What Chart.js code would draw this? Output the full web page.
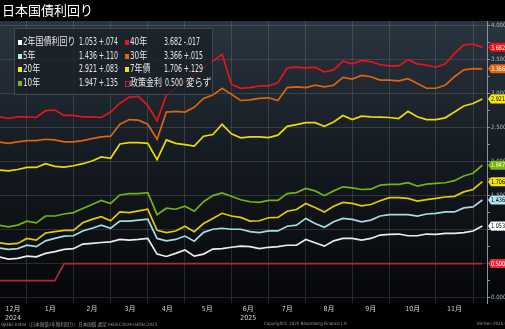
<!DOCTYPE html>
<html>
<head>
<meta charset="utf-8">
<script src="https://cdn.jsdelivr.net/npm/chart.js@4/dist/chart.umd.min.js"></script>
<style>
  html, body { margin: 0; padding: 0; background: #000; width: 505px; height: 329px; overflow: hidden; }
  #wrap { position: relative; width: 505px; height: 329px; }
  #c { position: absolute; left: 0; top: 0; }
  .title { position: absolute; left: 2px; top: 0px; font: 13px "Noto Sans CJK JP", sans-serif; color: #fff; line-height: 20px; }
  .legend { position: absolute; left: 14px; top: 28px; width: 199px; height: 67px; background: rgba(26,31,37,0.78);
            border: 1px solid rgba(95,103,112,0.55); box-sizing: border-box; }
  .item { position: absolute; font: 10px "DejaVu Sans Condensed", "Noto Sans CJK JP", sans-serif;
          color: #e6e6e6; white-space: nowrap; line-height: 12px; transform-origin: 0 50%; }
  .mk { position: absolute; width: 4px; height: 5px; }
  .foot { position: absolute; top: 321px; font: 4.5px "DejaVu Sans Condensed", "Noto Sans CJK JP", sans-serif; color: #9a9a9a; white-space: nowrap; }
</style>
</head>
<body>
<div id="wrap">
  <canvas id="c" width="505" height="329"></canvas>
  <div class="title">日本国債利回り</div>
  <div class="legend" id="legend"></div>
  <div class="foot" style="left:1px">GJGB2 Index（日本国債2年物利回り）日本国債 週足 06DEC2024-04DEC2025</div>
  <div class="foot" style="left:264px">Copyright© 2025 Bloomberg Finance L.P.</div>
  <div class="foot" style="left:477px">04-Dec-2025 06:37:37</div>
</div>
<script>
// Weekly closes, week 0 = early Dec 2024 ... week 52 = early Dec 2025
const jgb2  = [0.60,0.566,0.576,0.61,0.60,0.65,0.675,0.71,0.72,0.787,0.797,0.81,0.82,0.855,0.845,0.855,0.87,
               0.64,0.605,0.65,0.70,0.61,0.64,0.713,0.72,0.74,0.757,0.75,0.72,0.74,0.75,0.77,0.77,0.855,0.806,0.757,
               0.835,0.87,0.87,0.845,0.87,0.92,0.93,0.935,0.91,0.91,0.935,0.93,0.945,0.945,0.955,0.98,1.053];
const jgb5  = [0.73,0.71,0.72,0.77,0.75,0.835,0.87,0.905,0.91,0.98,1.02,1.066,1.02,1.125,1.125,1.14,1.155,
               0.87,0.835,0.855,0.905,0.83,0.96,1.005,1.02,1.005,1.005,0.97,0.955,0.98,0.98,1.05,1.066,1.165,1.09,1.035,
               1.115,1.165,1.15,1.115,1.14,1.20,1.22,1.22,1.22,1.20,1.23,1.24,1.26,1.26,1.32,1.335,1.436];
const jgb7  = [0.806,0.787,0.797,0.87,0.845,0.95,0.97,0.99,0.99,1.10,1.15,1.19,1.13,1.26,1.25,1.275,1.30,
               0.99,0.955,0.98,1.05,0.97,1.09,1.165,1.24,1.20,1.18,1.125,1.13,1.175,1.18,1.27,1.295,1.385,1.325,1.26,
               1.345,1.40,1.385,1.35,1.37,1.425,1.47,1.47,1.46,1.42,1.44,1.46,1.48,1.49,1.555,1.59,1.706];
const jgb10 = [1.066,1.04,1.066,1.125,1.10,1.20,1.20,1.23,1.25,1.31,1.37,1.43,1.385,1.51,1.53,1.53,1.545,
               1.22,1.315,1.30,1.345,1.27,1.41,1.50,1.54,1.49,1.44,1.41,1.40,1.43,1.43,1.53,1.545,1.605,1.57,1.50,
               1.57,1.63,1.615,1.59,1.595,1.655,1.665,1.665,1.69,1.64,1.67,1.68,1.69,1.72,1.79,1.83,1.947];
const jgb20 = [1.875,1.865,1.885,1.915,1.915,1.97,1.93,1.92,1.94,1.97,2.01,2.07,2.05,2.26,2.28,2.28,2.27,
               2.03,2.32,2.27,2.25,2.23,2.375,2.40,2.55,2.41,2.35,2.365,2.365,2.355,2.39,2.52,2.545,2.575,2.575,2.52,
               2.585,2.68,2.62,2.67,2.66,2.655,2.65,2.635,2.74,2.66,2.62,2.62,2.645,2.73,2.82,2.855,2.921];
const jgb30 = [2.29,2.27,2.29,2.31,2.31,2.33,2.32,2.29,2.29,2.31,2.34,2.365,2.375,2.55,2.62,2.61,2.55,
               2.33,2.73,2.74,2.73,2.80,2.93,2.98,3.08,2.99,2.90,2.91,2.93,2.94,2.90,3.09,3.10,3.09,3.125,3.10,
               3.125,3.24,3.215,3.27,3.25,3.20,3.20,3.19,3.22,3.15,3.08,3.08,3.125,3.25,3.35,3.37,3.366];
const jgb40 = [2.66,2.635,2.66,2.66,2.65,2.75,2.76,2.68,2.68,2.66,2.66,2.65,2.73,2.86,2.95,2.96,2.83,
               2.60,2.98,3.08,3.17,3.28,3.38,3.48,3.58,3.14,3.08,3.09,3.115,3.115,3.16,3.38,3.39,3.38,3.39,3.32,
               3.35,3.48,3.44,3.49,3.47,3.43,3.41,3.41,3.50,3.44,3.42,3.39,3.44,3.59,3.72,3.73,3.682];
const policyRate = [0.25,0.25,0.25,0.25,0.25,0.25,0.25,
               0.5,0.5,0.5,0.5,0.5,0.5,0.5,0.5,0.5,0.5,0.5,0.5,0.5,0.5,0.5,0.5,0.5,0.5,0.5,0.5,0.5,0.5,0.5,0.5,
               0.5,0.5,0.5,0.5,0.5,0.5,0.5,0.5,0.5,0.5,0.5,0.5,0.5,0.5,0.5,0.5,0.5,0.5,0.5,0.5,0.5,0.5];

// Legend names and weekly change text
const seriesNames   = ['2年国債利回り', '5年', '7年債', '10年', '20年', '30年', '40年', '政策金利'];
const seriesChanges = ['+.074', '+.110', '+.129', '+.135', '+.083', '+.015', '-.017', '変らず'];

// Month labels (second line = year)
const monthLabels = [['12月','2024'], ['1月'], ['2月'], ['3月'], ['4月'], ['5月'], ['6月','2025'],
                     ['7月'], ['8月'], ['9月'], ['10月'], ['11月']];
const yTickValues = [0, 0.5, 1, 1.5, 2, 2.5, 3, 3.5, 4];

// Layout in week units: mid-month label spots and month boundaries (grid)
const monthMidWeeks   = [1.5, 5.5, 10, 14.1, 18.1, 22.4, 26.8, 31, 35.5, 40, 44.5, 49];
const monthStartWeeks = [3, 8, 12, 16, 20, 25, 29, 33, 38, 42, 47, 51];

const series = [
  { data: policyRate, color: '#b8263a', tag: '#e8283f', tagText: '#ffffff', marker: 'hollow' },
  { data: jgb2,  color: '#ececec', tag: '#ffffff', tagText: '#000000' },
  { data: jgb5,  color: '#a6dbe3', tag: '#b5e6ee', tagText: '#000000' },
  { data: jgb7,  color: '#e2cc00', tag: '#f2e400', tagText: '#000000' },
  { data: jgb10, color: '#74b212', tag: '#79b80a', tagText: '#ffffff' },
  { data: jgb20, color: '#ebdc00', tag: '#f6ec00', tagText: '#000000' },
  { data: jgb30, color: '#de640e', tag: '#e2650c', tagText: '#ffffff' },
  { data: jgb40, color: '#e6141c', tag: '#ea141c', tagText: '#ffffff' }
];
const nameIndex = { '2年国債利回り': 1, '5年': 2, '7年債': 3, '10年': 4, '20年': 5, '30年': 6, '40年': 7, '政策金利': 0 };

// Legend panel (two columns, four rows)
const legendLayout = [
  ['2年国債利回り', 0, 0], ['5年', 0, 1], ['20年', 0, 2], ['10年', 0, 3],
  ['40年', 1, 0], ['30年', 1, 1], ['7年債', 1, 2], ['政策金利', 1, 3]
];
const legendEl = document.getElementById('legend');
const numEls = [];
function addText(text, left, top, scale) {
  const el = document.createElement('div');
  el.className = 'item';
  el.style.left = left + 'px';
  el.style.top = top + 'px';
  if (scale) el.style.transform = 'scaleX(' + scale + ')';
  el.textContent = text;
  legendEl.appendChild(el);
  return el;
}
legendLayout.forEach(([name, col, row]) => {
  const s = series[nameIndex[name]];
  const k = seriesNames.indexOf(name);
  const last = s.data[s.data.length - 1];
  const top = 7 + row * 13.5;
  const mx = col === 0 ? 3 : 110;
  const mk = document.createElement('div');
  mk.className = 'mk';
  mk.style.left = mx + 'px';
  mk.style.top = (top + 4) + 'px';
  if (s.marker === 'hollow') { mk.style.border = '1px solid ' + s.color; mk.style.width = '3px'; mk.style.height = '4px'; }
  else mk.style.background = s.tag;
  legendEl.appendChild(mk);
  addText(name, mx + 5, top, 0.8);
  const vx = col === 0 ? 64 : 149;
  if (/^[+-]/.test(seriesChanges[k])) {
    numEls.push(addText(last.toFixed(3) + ' ' + seriesChanges[k], vx, top));
  } else {
    numEls.push(addText(last.toFixed(3), vx + 1, top));
    addText(seriesChanges[k], vx + 22, top, 0.85);
  }
});
// squeeze the figures to a narrow width
const w0 = numEls[0].getBoundingClientRect().width || 50;
const sq = 39 / w0;
numEls.forEach(el => { el.style.transform = 'scaleX(' + sq + ')'; });

const bgPlugin = {
  id: 'bg',
  beforeDraw(chart) {
    const { ctx, chartArea } = chart;
    const g = ctx.createLinearGradient(0, chartArea.top, 0, chartArea.bottom);
    g.addColorStop(0, '#2a3541');
    g.addColorStop(0.45, '#161c23');
    g.addColorStop(1, '#050608');
    ctx.save();
    ctx.fillStyle = '#000';
    ctx.fillRect(0, 0, chart.width, chart.height);
    ctx.fillStyle = g;
    ctx.fillRect(0, chartArea.top, chart.width, chartArea.bottom - chartArea.top);
    ctx.restore();
  }
};

// Last-value tags on the right axis
const tagPlugin = {
  id: 'tags',
  afterDraw(chart) {
    const { ctx } = chart;
    const ys = chart.scales.y;
    const x0 = chart.chartArea.right;
    ctx.save();
    series.forEach(s => {
      const v = s.data[s.data.length - 1];
      const y = ys.getPixelForValue(v);
      ctx.beginPath();
      ctx.moveTo(x0 + 1, y);
      ctx.lineTo(x0 + 4, y - 4.5);
      ctx.lineTo(chart.width, y - 4.5);
      ctx.lineTo(chart.width, y + 4.5);
      ctx.lineTo(x0 + 4, y + 4.5);
      ctx.closePath();
      ctx.fillStyle = s.tag;
      ctx.fill();
      ctx.fillStyle = s.tagText;
      ctx.font = '6.5px "DejaVu Sans Condensed", sans-serif';
      ctx.textBaseline = 'middle';
      ctx.textAlign = 'left';
      ctx.fillText(v.toFixed(3), x0 + 4, y + 0.5, 14);
    });
    ctx.restore();
  }
};

const midSet = new Map(monthMidWeeks.map((w, k) => [w, monthLabels[k]]));
const startSet = new Set(monthStartWeeks);

new Chart(document.getElementById('c'), {
  type: 'line',
  data: {
    datasets: series.map(s => ({
      data: s.data.map((v, i) => ({ x: i, y: v })),
      borderColor: s.color,
      borderWidth: 1.7,
      pointRadius: 0,
      tension: 0,
      fill: false
    }))
  },
  options: {
    responsive: false,
    animation: false,
    devicePixelRatio: 1,
    layout: { padding: { top: 21, left: 0, right: 0, bottom: 0 } },
    plugins: { legend: { display: false }, tooltip: { enabled: false } },
    scales: {
      x: {
        type: 'linear',
        min: 0.1,
        max: 52.5,
        afterBuildTicks(scale) {
          const vals = [...monthMidWeeks, ...monthStartWeeks].sort((a, b) => a - b);
          scale.ticks = vals.map(v => ({ value: v }));
        },
        afterFit(scale) { scale.height = 26; },
        ticks: {
          autoSkip: false,
          maxRotation: 0,
          padding: 1,
          color: '#d2d2d2',
          font: { family: '"DejaVu Sans Condensed", "Noto Sans CJK JP"', size: 7, lineHeight: 1.35 },
          callback: v => midSet.has(v) ? midSet.get(v) : ''
        },
        grid: {
          drawTicks: false,
          color: c => (c.tick && startSet.has(c.tick.value)) ? 'rgba(200,210,220,0.16)' : 'rgba(0,0,0,0)',
          lineWidth: 1
        },
        border: { display: false }
      },
      y: {
        position: 'right',
        min: -0.08,
        max: 4.07,
        afterBuildTicks(scale) {
          const out = [];
          for (let k = 0; k < yTickValues.length; k++) {
            out.push({ value: yTickValues[k] });
            if (k < yTickValues.length - 1) out.push({ value: (yTickValues[k] + yTickValues[k + 1]) / 2 });
          }
          scale.ticks = out;
        },
        afterFit(scale) { scale.width = 18; },
        ticks: {
          padding: 1,
          color: '#b4b9be',
          font: { family: '"DejaVu Sans Condensed", sans-serif', size: 6 },
          callback: v => yTickValues.includes(v) ? v.toFixed(3) : ''
        },
        grid: {
          tickLength: 3,
          color: c => (c.tick && yTickValues.includes(c.tick.value)) ? 'rgba(190,200,210,0.17)' : 'rgba(0,0,0,0)',
          tickColor: '#8c9298'
        },
        border: { display: true, color: '#8c9298', width: 1 }
      }
    }
  },
  plugins: [bgPlugin, tagPlugin]
});
</script>
</body>
</html>
